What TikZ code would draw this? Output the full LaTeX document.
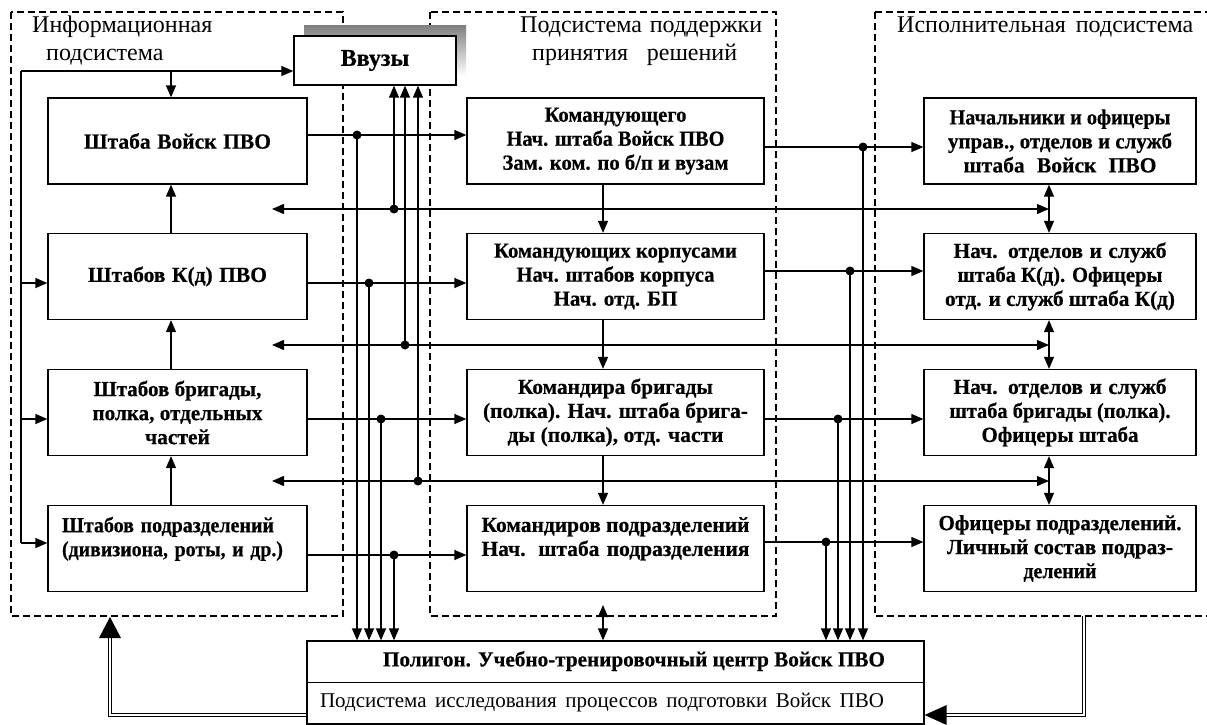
\documentclass[tikz,border=0pt]{standalone}
\usepackage{fontspec}
\usepackage{graphicx}
\setmainfont{Liberation Serif}[BoldFeatures={FakeBold=0.5}]
\usetikzlibrary{arrows.meta,calc}
\newcommand\bxf{\fontsize{21.5}{24}\selectfont\bfseries}
\newcommand\lbf{\fontsize{24}{28}\selectfont}
\newcommand\rgf{\fontsize{21}{24}\selectfont}
\newcommand\vvf{\fontsize{24}{28}\selectfont\bfseries}
\newcommand\sline[2]{\setbox0=\hbox{#2}\ifdim\wd0>#1pt\relax\pgfmathsetmacro\sfac{#1/\the\wd0}\scalebox{\sfac}[1]{\box0}\else\makebox[#1pt][s]{#2}\fi}
\definecolor{shade}{HTML}{7F7F7F}
\begin{document}
\begin{tikzpicture}[x=1pt,y=-1pt,
  box/.style={draw,line width=1.3pt,inner sep=0pt,align=center,font=\bxf},
  con/.style={line width=1.3pt},
  arr/.style={con,-{Triangle[length=12pt,width=10pt]}},
  arrb/.style={con,{Triangle[length=12pt,width=10pt]}-{Triangle[length=12pt,width=10pt]}},
  zone/.style={dash pattern=on 7pt off 4pt,line width=1.3pt},
  dot/.style={circle,fill,inner sep=0pt,minimum size=9pt},
  dbl/.style={double,double distance=2pt,line width=0.8pt},
  lab/.style={inner sep=0pt,font=\lbf,anchor=base west}
]
\useasboundingbox (0,0) rectangle (1207,724);
% zones
\draw[zone] (11,12) rectangle (343,616);
\draw[zone] (430,12) rectangle (776,616);
\draw[zone] (875,12) rectangle (1215,616);
% zone labels
\node[lab] (t1) at (32,32.5) {Информационная};
\node[lab] (t2) at (46,60) {подсистема};
\node[lab] (t3) at (520,32.5) {\sline{242}{Подсистема поддержки}};
\node[lab] (t4) at (532,60) {\sline{205}{принятия решений}};
\node[lab] (t5) at (897,32.5) {\sline{296}{Исполнительная подсистема}};
% Vvuzy
\fill[shade] (304,25) rectangle (466,76);
\node[box,font=\vvf,fill=white,minimum width=162pt,minimum height=49pt] (vv) at (375,60.5) {Ввузы};
% left column
\node[box,minimum width=259pt,minimum height=86pt] (L1) at (177.5,141) {\sline{187}{Штаба Войск ПВО}};
\node[box,minimum width=259pt,minimum height=86pt] (L2) at (177.5,276.5) {\sline{179}{Штабов К(д) ПВО}};
\node[box,minimum width=259pt,minimum height=86pt] (L3) at (177.5,412.5) {\sline{168}{Штабов бригады,}\\ \sline{170}{полка, отдельных}\\ частей};
\node[box,minimum width=259pt,minimum height=86pt,align=left,text width=231pt] (L4) at (177.5,548.5) {\sline{212}{Штабов подразделений}\\ \sline{221}{(дивизиона, роты, и др.)}\\ \mbox{}};
% middle column
\node[box,minimum width=297pt,minimum height=86pt] (M1) at (615.5,141) {\sline{142}{Командующего}\\ \sline{218}{Нач. штаба Войск ПВО}\\ \sline{226}{Зам. ком. по б/п и вузам}};
\node[box,minimum width=297pt,minimum height=86pt] (M2) at (615.5,276.5) {\sline{243}{Командующих корпусами}\\ \sline{198}{Нач. штабов корпуса}\\ \sline{124}{Нач. отд. БП}};
\node[box,minimum width=297pt,minimum height=86pt] (M3) at (615.5,412.5) {\sline{195}{Командира бригады}\\ \sline{265}{(полка). Нач. штаба брига-}\\ \sline{216}{ды (полка), отд. части}};
\node[box,minimum width=297pt,minimum height=86pt] (M4) at (615.5,548.5) {\sline{268}{Командиров подразделений}\\ \sline{268}{Нач. штаба подразделения}\\ \mbox{}};
% right column
\node[box,minimum width=272pt,minimum height=86pt] (R1) at (1060,141) {\sline{221}{Начальники и офицеры}\\ \sline{224}{управ., отделов и служб}\\ \sline{193}{штаба Войск ПВО}};
\node[box,minimum width=272pt,minimum height=86pt] (R2) at (1060,276.5) {\sline{213}{Нач. отделов и служб}\\ \sline{205}{штаба К(д). Офицеры}\\ \sline{230}{отд. и служб штаба К(д)}};
\node[box,minimum width=272pt,minimum height=86pt] (R3) at (1060,412.5) {\sline{213}{Нач. отделов и служб}\\ \sline{221}{штаба бригады (полка).}\\ \sline{157}{Офицеры штаба}};
\node[box,minimum width=272pt,minimum height=86pt] (R4) at (1060,548.5) {\sline{243}{Офицеры подразделений.}\\ \sline{226}{Личный состав подраз-}\\ \sline{73}{делений}};
% polygon
\node[box,minimum width=617pt,minimum height=83pt] (P) at (615.5,682.5) {};
\draw[line width=1.3pt] (P.west) -- (P.east);
\node[inner sep=0pt,font=\bxf] (p1) at (634,661) {\sline{502}{Полигон. Учебно-тренировочный центр Войск ПВО}};
\node[inner sep=0pt,font=\rgf] (p2) at (602,703) {\sline{564}{Подсистема исследования процессов подготовки Войск ПВО}};
% helper coordinates
\coordinate (lt) at (21,71);
\coordinate (lb) at (21,543);
\coordinate (xL) at (171,0);
\coordinate (xM) at (603,0);
\coordinate (xR) at (1049,0);
\coordinate (yi2) at (0,283);
\coordinate (yi3) at (0,419);
\coordinate (yo1) at (0,135);
\coordinate (yo2) at (0,283);
\coordinate (yo3) at (0,419);
\coordinate (yo4) at (0,555);
\coordinate (ym1) at (0,147);
\coordinate (ym2) at (0,271);
\coordinate (ym3) at (0,419);
\coordinate (ym4) at (0,542);
\coordinate (bl1) at (272,209);
\coordinate (bl2) at (272,345);
\coordinate (bl3) at (272,481);
% left side bus
\draw[con] (lb) -- (lt);
\draw[arr] (lt) -- (lt -| vv.west);
\draw[arr] (lt -| xL) -- (L1.north -| xL);
\draw[arr] (lt |- yi2) -- (L2.west |- yi2);
\draw[arr] (lt |- yi3) -- (L3.west |- yi3);
\draw[arr] (lb) -- (L4.west |- lb);
\draw[arr] (L2.north -| xL) -- (L1.south -| xL);
\draw[arr] (L3.north -| xL) -- (L2.south -| xL);
\draw[arr] (L4.north -| xL) -- (L3.south -| xL);
% left to middle
\draw[arr] (L1.east |- yo1) -- (M1.west |- yo1);
\draw[arr] (L2.east |- yo2) -- (M2.west |- yo2);
\draw[arr] (L3.east |- yo3) -- (M3.west |- yo3);
\draw[arr] (L4.east |- yo4) -- (M4.west |- yo4);
\node[dot] (d1) at (357,135) {};
\node[dot] (d2) at (369,283) {};
\node[dot] (d3) at (381,419) {};
\node[dot] (d4) at (394,555) {};
\foreach \d in {d1,d2,d3,d4} \draw[arr] (\d.center) -- (\d.center |- P.north);
% buses
\draw[arrb] (bl1) -- (bl1 -| xR);
\draw[arrb] (bl2) -- (bl2 -| xR);
\draw[arrb] (bl3) -- (bl3 -| xR);
\node[dot] (e1) at (394,209) {};
\node[dot] (e2) at (405,345) {};
\node[dot] (e3) at (418,481) {};
\foreach \e in {e1,e2,e3} \draw[arr] (\e.center) -- (\e.center |- vv.south);
% middle column
\draw[arr] (M1.south -| xM) -- (M2.north -| xM);
\draw[arr] (M2.south -| xM) -- (M3.north -| xM);
\draw[arr] (M3.south -| xM) -- (M4.north -| xM);
\coordinate (mp) at (603,605);
\draw[arrb] (mp) -- (mp |- P.north);
% middle to right
\draw[arr] (M1.east |- ym1) -- (R1.west |- ym1);
\draw[arr] (M2.east |- ym2) -- (R2.west |- ym2);
\draw[arr] (M3.east |- ym3) -- (R3.west |- ym3);
\draw[arr] (M4.east |- ym4) -- (R4.west |- ym4);
\node[dot] (f1) at (863,147) {};
\node[dot] (f2) at (850,271) {};
\node[dot] (f3) at (838,419) {};
\node[dot] (f4) at (826,542) {};
\foreach \f in {f1,f2,f3,f4} \draw[arr] (\f.center) -- (\f.center |- P.north);
% right column
\draw[arrb] (R1.south -| xR) -- (R2.north -| xR);
\draw[arrb] (R2.south -| xR) -- (R3.north -| xR);
\draw[arrb] (R3.south -| xR) -- (R4.north -| xR);
% feedback double arrows
\coordinate (bla) at (110,715);
\coordinate (blb) at (110,638);
\coordinate (blt) at (110,617);
\draw[dbl] (P.west |- bla) -- (bla) -- (blb);
\fill (blt) -- ++(-11,21) -- ++(22,0) -- cycle;
\coordinate (bra) at (1084,616);
\coordinate (brc) at (1084,715);
\coordinate (brb) at (946,715);
\draw[dbl] (bra) -- (brc) -- (brb);
\fill (P.east |- brc) -- ++(22,-10) -- ++(0,20) -- cycle;
\end{tikzpicture}
\end{document}
